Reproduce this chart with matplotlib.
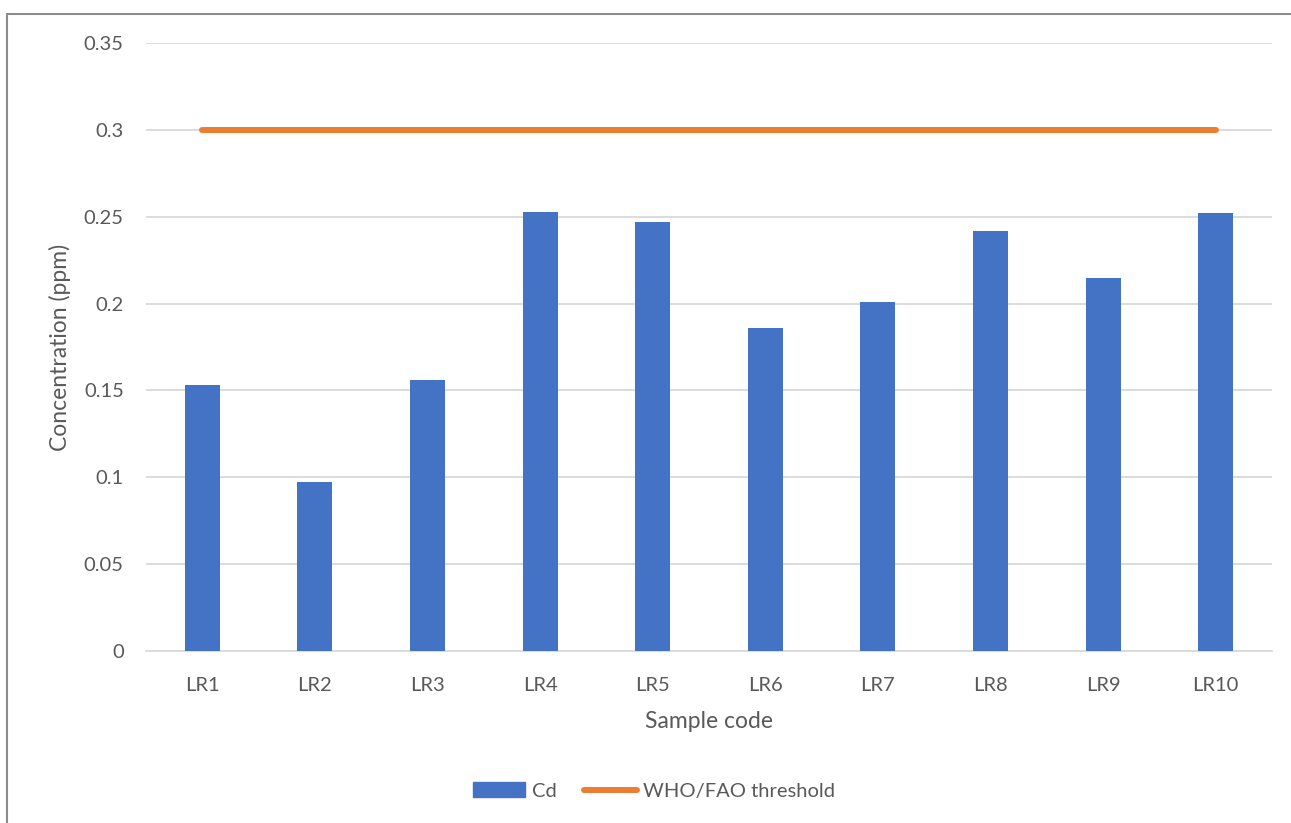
import matplotlib.pyplot as plt
from matplotlib.patches import Rectangle
from matplotlib.lines import Line2D

plt.rcParams['font.family'] = ['Lato', 'DejaVu Sans']

# data
samples = ['LR1', 'LR2', 'LR3', 'LR4', 'LR5', 'LR6', 'LR7', 'LR8', 'LR9', 'LR10']
cd_values = [0.153, 0.097, 0.156, 0.253, 0.247, 0.186, 0.201, 0.242, 0.215, 0.252]
threshold = [0.3] * len(samples)
y_ticks = [0, 0.05, 0.1, 0.15, 0.2, 0.25, 0.3, 0.35]
y_tick_labels = ['0', '0.05', '0.1', '0.15', '0.2', '0.25', '0.3', '0.35']

blue = '#4472C4'
orange = '#ED7D31'
text_col = '#595959'
grid_col = '#D9D9D9'

W, H = 1291, 823
fig = plt.figure(figsize=(W / 100, H / 100), dpi=100)
ax = fig.add_axes([146 / W, 1 - 651 / H, (1272 - 146) / W, (651 - 43) / H])

x = list(range(len(samples)))
ax.bar(x, cd_values, width=0.31, color=blue, zorder=3, label='Cd')
ax.plot(x, threshold, color=orange, linewidth=4.3, solid_capstyle='round',
        zorder=4, label='WHO/FAO threshold')

ax.set_xlim(-0.5, len(samples) - 0.5)
ax.set_ylim(0, 0.35)
ax.set_yticks(y_ticks)
ax.set_yticklabels(y_tick_labels)
ax.set_xticks(x)
ax.set_xticklabels(samples)
ax.tick_params(axis='both', length=0, labelsize=14.5, colors=text_col)
ax.tick_params(axis='y', pad=16)
ax.tick_params(axis='x', pad=19)
ax.yaxis.grid(True, color=grid_col, linewidth=1.3, zorder=0)
for side in ['top', 'right', 'left']:
    ax.spines[side].set_visible(False)
ax.spines['bottom'].set_color(grid_col)
ax.spines['bottom'].set_linewidth(1.3)

ax.set_ylabel('Concentration (ppm)', fontsize=16.5, color=text_col, labelpad=9)
ax.set_xlabel('Sample code', fontsize=16.5, color=text_col, labelpad=12)

handles = [Rectangle((0, 0), 1, 1, color=blue),
           Line2D([0], [0], color=orange, linewidth=4.3, solid_capstyle='round')]
fig.legend(handles, ['Cd', 'WHO/FAO threshold'], loc='center',
           bbox_to_anchor=(654 / W, 1 - 791 / H), ncol=2, frameon=False,
           fontsize=14.5, labelcolor=text_col, handlelength=2.6,
           handleheight=0.7, handletextpad=0.3, columnspacing=1.4)

# outer chart frame (only left and top edges visible in the reference)
fig.patches.append(Rectangle((7 / W, -0.1), 1.2, 1 - 14 / H + 0.1,
                             transform=fig.transFigure, fill=False,
                             edgecolor='#8C8C8C', linewidth=1.5))

fig.savefig('out.png', dpi=100)
